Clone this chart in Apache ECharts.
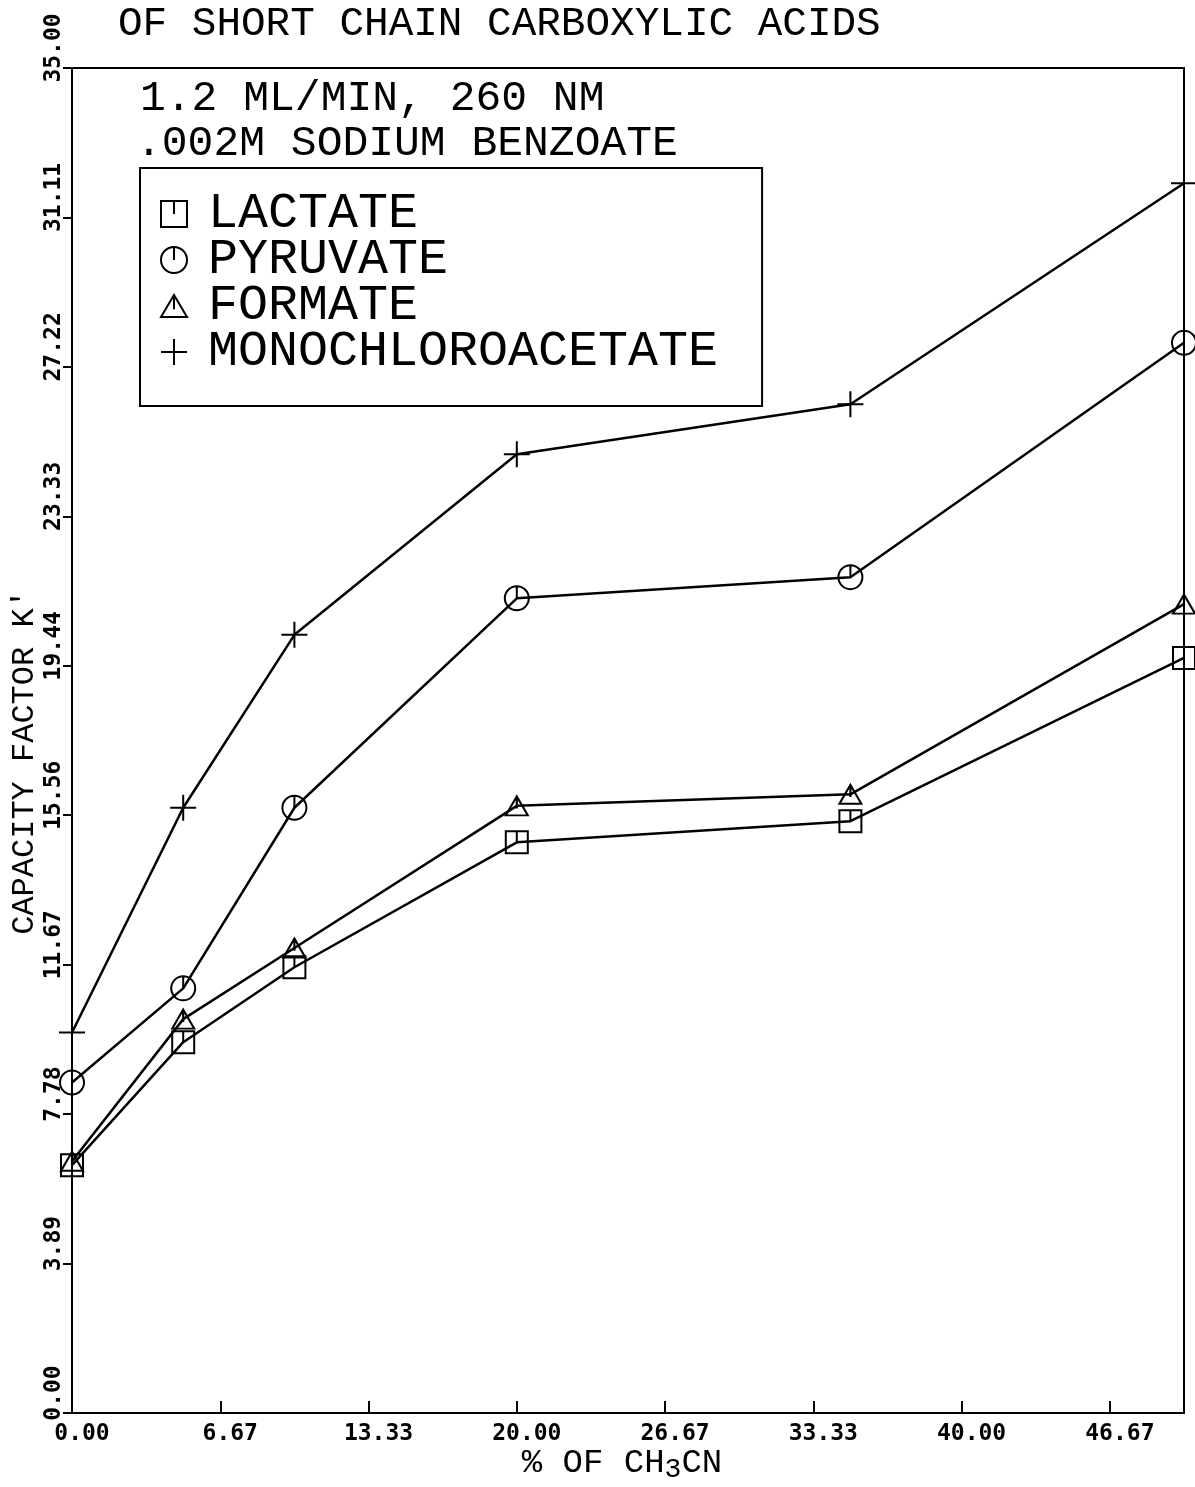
<!DOCTYPE html>
<html><head><meta charset="utf-8">
<script src="https://cdn.jsdelivr.net/npm/echarts@6/dist/echarts.min.js"></script>
<style>html,body{margin:0;padding:0;background:#fff}#c{width:1195px;height:1487px}</style>
</head><body><div id="c"></div>
<script>
const xValues = [0, 5, 10, 20, 35, 50];
const lactate = [6.45, 9.65, 11.6, 14.85, 15.4, 19.65];
const pyruvate = [8.6, 11.05, 15.75, 21.2, 21.75, 27.85];
const formate = [6.55, 10.25, 12.1, 15.8, 16.1, 21.05];
const monochloroacetate = [9.9, 15.75, 20.25, 24.95, 26.25, 32.0];
const seriesNames = ['LACTATE', 'PYRUVATE', 'FORMATE', 'MONOCHLOROACETATE'];
const titleText = 'OF SHORT CHAIN CARBOXYLIC ACIDS';
const noteLines = ['1.2 ML/MIN, 260 NM', '.002M SODIUM BENZOATE'];
const yTitle = "CAPACITY FACTOR K'";

const SYM = {
  square: 'path://M0,0 L20,0 L20,20 L0,20 Z M10,0 L10,10',
  circle: 'path://M20,10 A10,10 0 1,1 0,10 A10,10 0 1,1 20,10 Z M10,0 L10,10',
  triangle: 'path://M10,0 L20,17 L0,17 Z M10,0 L10,11',
  plus: 'path://M0,10 L20,10 M10,0 L10,20'
};
const symbols = [SYM.square, SYM.circle, SYM.triangle, SYM.plus];
const sizes = [[22,22],[24,24],[22,19],[26,26]];
const dataSets = [lactate, pyruvate, formate, monochloroacetate];

const MONO = 'Liberation Mono';
const chart = echarts.init(document.getElementById('c'), null, {renderer: 'canvas'});
chart.setOption({
  backgroundColor: '#fff',
  animation: false,
  grid: {left: 72, right: 11, top: 68, bottom: 74, show: true, borderColor: '#000', borderWidth: 2, backgroundColor: 'transparent'},
  xAxis: {
    type: 'value', min: 0, max: 50, interval: 20/3,
    axisLine: {lineStyle: {color: '#000', width: 2}},
    axisTick: {inside: true, length: 12, lineStyle: {color: '#000', width: 2}},
    splitLine: {show: false},
    axisLabel: {showMaxLabel: false, color: '#000', fontFamily: 'DejaVu Sans Mono', fontWeight: 'bold', fontSize: 23, margin: 10, padding: [0,0,0,20],
      formatter: v => v.toFixed(2)}
  },
  yAxis: {
    type: 'value', min: 0, max: 35, interval: 35/9,
    axisLine: {lineStyle: {color: '#000', width: 2}},
    axisTick: {inside: false, length: 9, lineStyle: {color: '#000', width: 2}},
    splitLine: {show: false},
    axisLabel: {rotate: 90, color: '#000', fontFamily: 'DejaVu Sans Mono', fontWeight: 'bold', fontSize: 23, margin: 6, padding: [0,0,0,40],
      showMaxLabel: true, formatter: v => v.toFixed(2)}
  },
  legend: {
    orient: 'vertical', left: 140, top: 168,
    data: seriesNames.map((n,i) => ({name: n, icon: symbols[i]})),
    itemWidth: 26, itemHeight: 26, itemGap: -4,
    padding: [21, 44, 29, 20],
    borderColor: '#000', borderWidth: 2, backgroundColor: '#fff',
    itemStyle: {color: 'transparent', borderColor: '#000', borderWidth: 2},
    textStyle: {fontFamily: MONO, fontSize: 50, color: '#000', lineHeight: 36, padding: [0,0,0,16]}
  },
  graphic: [
    {type: 'text', left: 118, top: 4, style: {text: titleText, font: '41px "' + MONO + '"', fill: '#000'}},
    {type: 'text', left: 140, top: 77, style: {text: noteLines[0], font: '43px "' + MONO + '"', fill: '#000'}},
    {type: 'text', left: 136, top: 122, style: {text: noteLines[1], font: '43px "' + MONO + '"', fill: '#000'}},
    {type: 'text', x: 25, y: 762, rotation: Math.PI/2, style: {text: yTitle, font: '32px "' + MONO + '"', fill: '#000', align: 'center', verticalAlign: 'middle'}},
    {type: 'text', x: 622, y: 1463, style: {
      text: '{a|% OF CH}{s|3}{a|CN}', align: 'center', verticalAlign: 'middle',
      rich: {a: {fontFamily: MONO, fontSize: 34, fill: '#000', color: '#000'}, s: {fontFamily: MONO, fontSize: 28, color: '#000', padding: [14,0,0,0]}}
    }}
  ],
  series: dataSets.map((d,i) => ({
    name: seriesNames[i], type: 'line',
    data: xValues.map((x,j) => [x, d[j]]),
    symbol: symbols[i], symbolSize: sizes[i], showAllSymbol: true,
    lineStyle: {color: '#000', width: 2.5},
    itemStyle: {color: 'transparent', borderColor: '#000', borderWidth: 2},
    clip: false, z: 3
  }))
});
</script></body></html>
